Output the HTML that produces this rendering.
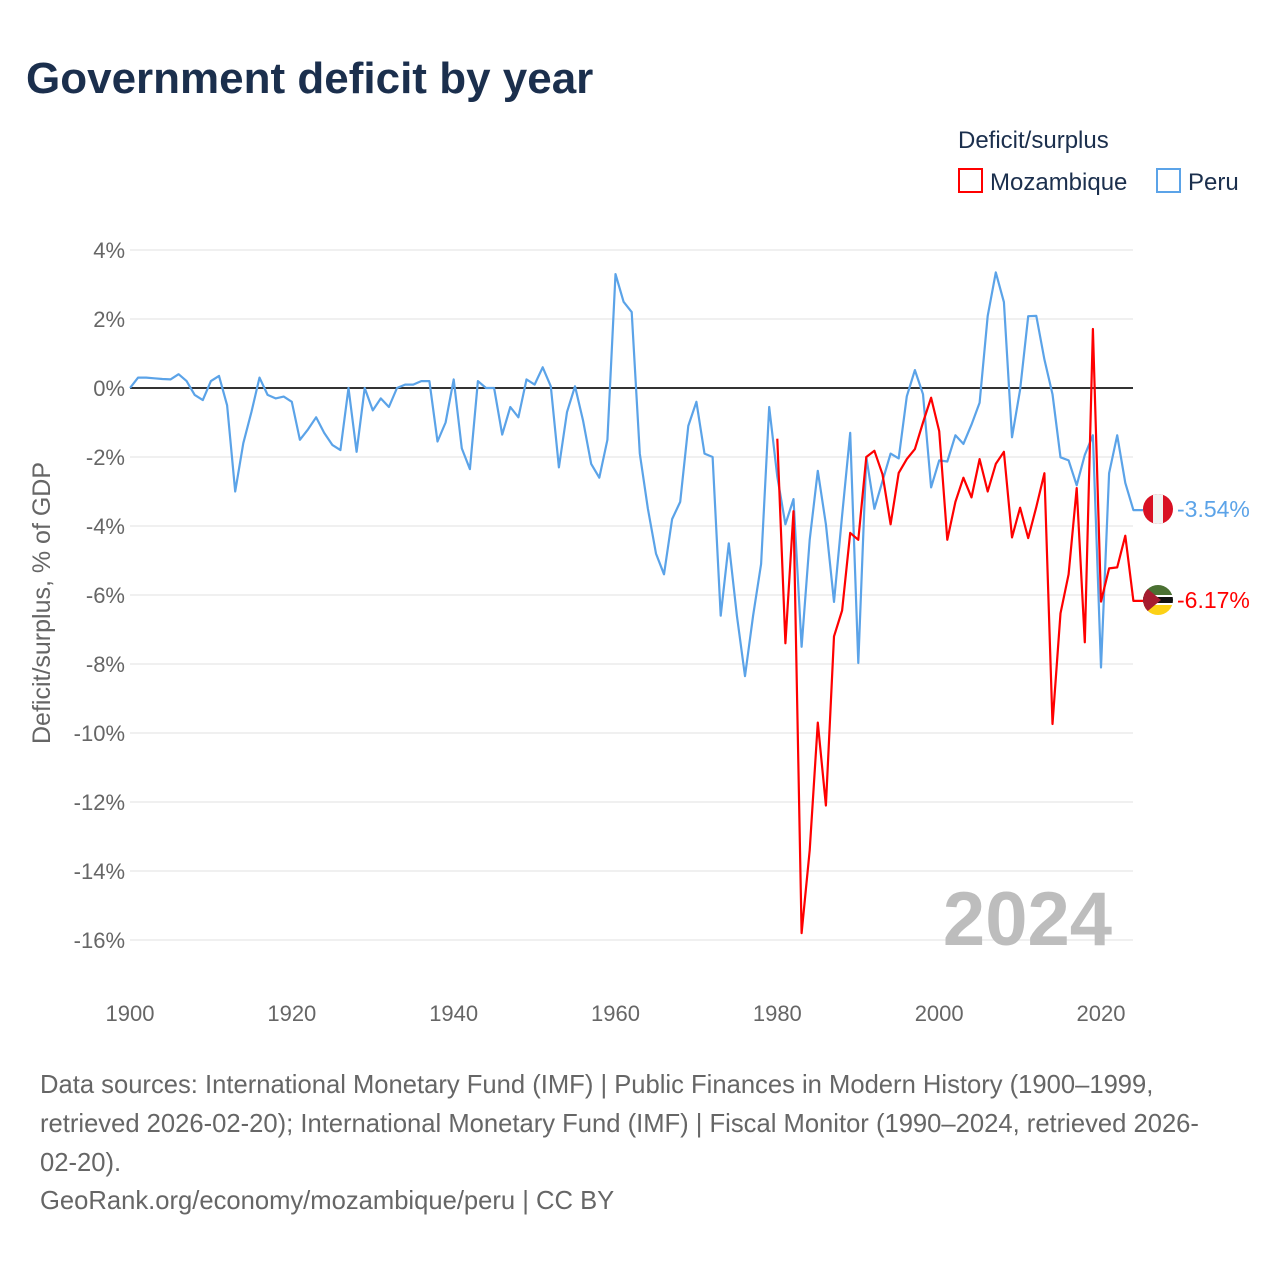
<!DOCTYPE html>
<html><head><meta charset="utf-8"><style>
body{margin:0;background:#fff;font-family:"Liberation Sans",sans-serif;}
#wrap{position:relative;width:1280px;height:1280px;overflow:hidden;}
</style></head><body>
<div id="wrap">
<svg id="chart" width="1280" height="1280" font-family="Liberation Sans, sans-serif">
<text x="26" y="93" font-size="44" font-weight="bold" fill="#1b2f4d">Government deficit by year</text>
<text x="958" y="148" font-size="24" fill="#1b2f4d">Deficit/surplus</text>
<g><rect x="959" y="169" width="23" height="23" fill="none" stroke="#f00" stroke-width="2"/><text x="990" y="190" font-size="24" fill="#1b2f4d">Mozambique</text></g>
<g><rect x="1157" y="169" width="23" height="23" fill="none" stroke="#5ba3e8" stroke-width="2"/><text x="1188" y="190" font-size="24" fill="#1b2f4d">Peru</text></g>
<text transform="translate(50,603) rotate(-90)" text-anchor="middle" font-size="25" fill="#666">Deficit/surplus, % of GDP</text>
<g id="grid"></g><g id="series"></g>
<text x="1112" y="945" text-anchor="end" font-size="76" font-weight="bold" fill="#bdbdbd">2024</text>
<g><clipPath id="cp1"><circle cx="1158" cy="509" r="15"/></clipPath><g clip-path="url(#cp1)"><rect x="1143" y="494" width="30" height="30" fill="#d91023"/><rect x="1153" y="494" width="10" height="30" fill="#f2f2f2"/></g></g>
<g><clipPath id="cp2"><circle cx="1158" cy="600" r="15"/></clipPath><g clip-path="url(#cp2)"><rect x="1143" y="585" width="30" height="10" fill="#4a7032"/><rect x="1143" y="595" width="30" height="2" fill="#fff"/><rect x="1143" y="597" width="30" height="6" fill="#111"/><rect x="1143" y="603" width="30" height="2" fill="#fff"/><rect x="1143" y="605" width="30" height="10" fill="#fcd116"/><polygon points="1143,585 1161,600 1143,615" fill="#a51c30"/></g></g>
<text x="1177" y="517" font-size="23" fill="#5ba3e8">-3.54%</text>
<text x="1177" y="608" font-size="23" fill="#f00">-6.17%</text>
<g font-size="25.6" fill="#666">
<text x="40" y="1093">Data sources: International Monetary Fund (IMF) | Public Finances in Modern History (1900–1999,</text>
<text x="40" y="1132">retrieved 2026-02-20); International Monetary Fund (IMF) | Fiscal Monitor (1990–2024, retrieved 2026-</text>
<text x="40" y="1171">02-20).</text>
<text x="40" y="1209">GeoRank.org/economy/mozambique/peru | CC BY</text>
</g>
</svg>
</div>
<script>
const yTicks=[4,2,0,-2,-4,-6,-8,-10,-12,-14,-16];
const xTicks=[1900,1920,1940,1960,1980,2000,2020];
const peruStart=1900;
const peruValues=[0,0.3,0.3,0.28,0.26,0.25,0.4,0.2,-0.2,-0.35,0.2,0.35,-0.5,-3.0,-1.6,-0.7,0.3,-0.2,-0.3,-0.25,-0.4,-1.5,-1.2,-0.85,-1.3,-1.65,-1.8,0,-1.85,0,-0.65,-0.3,-0.55,0,0.1,0.1,0.2,0.2,-1.55,-1.0,0.25,-1.75,-2.35,0.2,0,0,-1.35,-0.55,-0.85,0.25,0.1,0.6,0.05,-2.3,-0.7,0.05,-0.95,-2.2,-2.6,-1.5,3.3,2.5,2.2,-1.9,-3.5,-4.8,-5.4,-3.8,-3.3,-1.1,-0.4,-1.9,-2.0,-6.6,-4.5,-6.6,-8.35,-6.6,-5.1,-0.55,-2.57,-3.95,-3.22,-7.5,-4.4,-2.4,-3.95,-6.2,-3.7,-1.3,-7.97,-2.0,-3.5,-2.7,-1.9,-2.04,-0.24,0.52,-0.18,-2.88,-2.1,-2.13,-1.37,-1.62,-1.06,-0.43,2.09,3.35,2.49,-1.43,-0.05,2.08,2.09,0.83,-0.18,-2.01,-2.1,-2.82,-1.94,-1.37,-8.1,-2.47,-1.37,-2.75,-3.54];
const mozStart=1980;
const mozValues=[-1.47,-7.4,-3.57,-15.8,-13.4,-9.7,-12.1,-7.2,-6.45,-4.2,-4.4,-2.0,-1.82,-2.5,-3.95,-2.46,-2.06,-1.77,-1.0,-0.28,-1.25,-4.4,-3.3,-2.6,-3.17,-2.06,-3.0,-2.2,-1.85,-4.33,-3.47,-4.35,-3.45,-2.47,-9.74,-6.53,-5.4,-2.9,-7.37,1.71,-6.19,-5.23,-5.2,-4.28,-6.17];
const NS='http://www.w3.org/2000/svg';
const X=y=>130+(y-1900)*(1101-130)/120;
const Y=v=>388-v*34.5;
const grid=document.getElementById('grid'),ser=document.getElementById('series');
function mk(tag,attrs,parent){const e=document.createElementNS(NS,tag);for(const k in attrs)e.setAttribute(k,attrs[k]);parent.appendChild(e);return e;}
yTicks.forEach(v=>{
  const l=mk('line',{x1:130,x2:1133,y1:Y(v),y2:Y(v),stroke:v===0?'#333':'#e8e8e8','stroke-width':v===0?2:1.2},grid);
  
  
  const t=mk('text',{x:125,y:Y(v)+8,'text-anchor':'end','font-size':22,fill:'#666'},grid);
  t.textContent=v+'%';
  
  
});
xTicks.forEach(yr=>{
  const t=mk('text',{x:X(yr),y:1021,'text-anchor':'middle','font-size':22,fill:'#666'},grid);
  t.textContent=yr;
  
  
});
function line(vals,start,color,name){
  const pts=vals.map((v,i)=>X(start+i).toFixed(1)+','+Y(v).toFixed(1));
  const last=vals[vals.length-1];
  pts.push('1143,'+Y(last).toFixed(1));
  const p=mk('polyline',{points:pts.join(' '),fill:'none',stroke:color,'stroke-width':2.2,'stroke-linejoin':'round'},ser);
  
  
}
line(peruValues,peruStart,'#5ba3e8','peru-line');
line(mozValues,mozStart,'#f00','mozambique-line');
</script>
</body></html>
